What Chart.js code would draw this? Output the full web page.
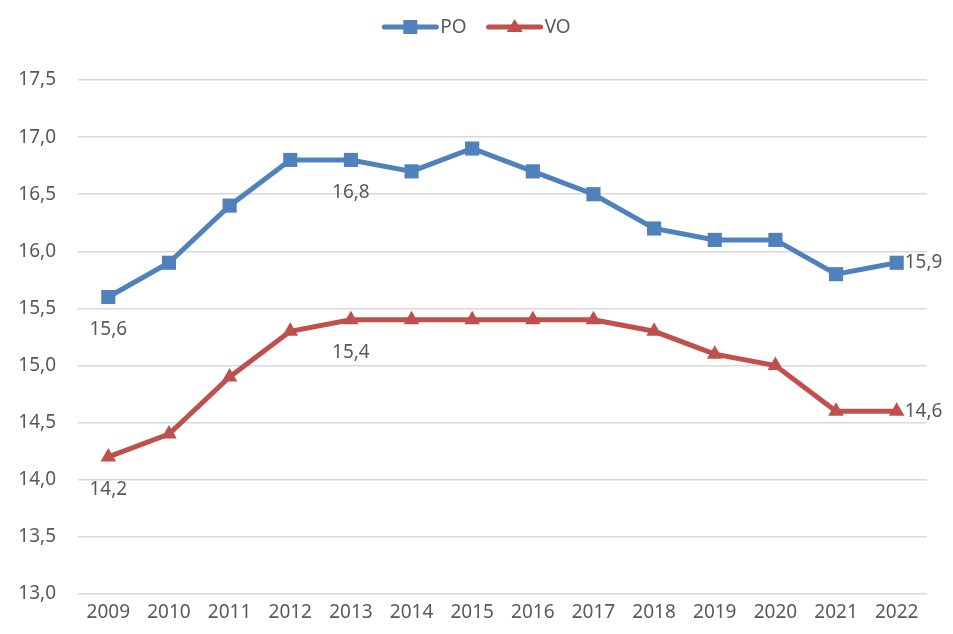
<!DOCTYPE html>
<html>
<head>
<meta charset="utf-8">
<script src="https://cdn.jsdelivr.net/npm/chart.js@4/dist/chart.umd.min.js"></script>
<style>
  html, body { margin: 0; padding: 0; background: #fff; }
  #wrap { width: 953px; height: 634px; }
</style>
</head>
<body>
<div id="wrap"><canvas id="chart"></canvas></div>
<script>
const years = ["2009","2010","2011","2012","2013","2014","2015","2016","2017","2018","2019","2020","2021","2022"];
const po = [15.6, 15.9, 16.4, 16.8, 16.8, 16.7, 16.9, 16.7, 16.5, 16.2, 16.1, 16.1, 15.8, 15.9];
const vo = [14.2, 14.4, 14.9, 15.3, 15.4, 15.4, 15.4, 15.4, 15.4, 15.3, 15.1, 15.0, 14.6, 14.6];
// which points get a value label, and where
const labelSpots = [
  { series: 0, index: 0, pos: "below" },
  { series: 0, index: 4, pos: "below" },
  { series: 0, index: 13, pos: "right" },
  { series: 1, index: 0, pos: "below" },
  { series: 1, index: 4, pos: "below" },
  { series: 1, index: 13, pos: "right" }
];

const FONT = "'Noto Sans', 'DejaVu Sans', sans-serif";
const TEXT = "#595959";
const SIZE = 19;
const fmt = (v) => v.toFixed(1).replace(".", ",");

// value labels next to chosen points
const valueLabels = {
  id: "valueLabels",
  afterDatasetsDraw(chart) {
    const ctx = chart.ctx;
    ctx.save();
    ctx.font = SIZE + "px " + FONT;
    ctx.fillStyle = TEXT;
    labelSpots.forEach((s) => {
      const pt = chart.getDatasetMeta(s.series).data[s.index];
      const v = chart.data.datasets[s.series].data[s.index];
      if (s.pos === "below") {
        ctx.textAlign = "center";
        ctx.textBaseline = "middle";
        ctx.fillText(fmt(v), pt.x, pt.y + 33);
      } else {
        ctx.textAlign = "left";
        ctx.textBaseline = "middle";
        ctx.fillText(fmt(v), pt.x + 8, pt.y);
      }
    });
    ctx.restore();
  }
};

// legend drawn as line + marker, like the office style
const lineLegend = {
  id: "lineLegend",
  afterDraw(chart) {
    const ctx = chart.ctx;
    const sets = chart.data.datasets;
    ctx.save();
    ctx.font = SIZE + "px " + FONT;
    const lineW = 56, gap = 2, spacing = 20;
    let total = 0;
    const widths = sets.map((d) => lineW + gap + ctx.measureText(d.label).width);
    widths.forEach((w) => (total += w));
    total += spacing * (sets.length - 1);
    let x = chart.width / 2 - total / 2;
    const y = 27;
    sets.forEach((d, i) => {
      ctx.strokeStyle = d.borderColor;
      ctx.lineWidth = 5;
      ctx.lineCap = "round";
      ctx.beginPath();
      ctx.moveTo(x + 2, y);
      ctx.lineTo(x + lineW - 2, y);
      ctx.stroke();
      ctx.fillStyle = d.borderColor;
      const cx = x + lineW / 2;
      if (d.pointStyle === "rect") {
        ctx.fillRect(cx - 7, y - 7, 14, 14);
      } else {
        ctx.beginPath();
        ctx.moveTo(cx, y - 8);
        ctx.lineTo(cx + 8, y + 5);
        ctx.lineTo(cx - 8, y + 5);
        ctx.closePath();
        ctx.fill();
      }
      ctx.fillStyle = TEXT;
      ctx.textAlign = "left";
      ctx.textBaseline = "middle";
      ctx.fillText(d.label, x + lineW + gap, y + 1);
      x += widths[i] + spacing;
    });
    ctx.restore();
  }
};

new Chart(document.getElementById("chart"), {
  type: "line",
  data: {
    labels: years,
    datasets: [
      {
        label: "PO",
        data: po,
        borderColor: "#4f81bd",
        backgroundColor: "#4f81bd",
        borderWidth: 5,
        pointStyle: "rect",
        pointRadius: 10,
        pointBorderWidth: 0,
        tension: 0
      },
      {
        label: "VO",
        data: vo,
        borderColor: "#c0504d",
        backgroundColor: "#c0504d",
        borderWidth: 5,
        pointStyle: "triangle",
        pointRadius: 9,
        pointBorderWidth: 0,
        tension: 0
      }
    ]
  },
  options: {
    responsive: true,
    maintainAspectRatio: false,
    animation: false,
    layout: { padding: { top: 80, right: 26, left: 0, bottom: 0 } },
    plugins: {
      legend: { display: false },
      tooltip: { enabled: false }
    },
    scales: {
      x: {
        offset: true,
        grid: { display: false, drawTicks: false },
        border: { display: false },
        ticks: { color: TEXT, font: { family: FONT, size: SIZE }, padding: 7, maxRotation: 0, autoSkip: false },
        afterFit(scale) { scale.height = 40; }
      },
      y: {
        min: 13,
        max: 17.5,
        grid: { color: "#d9d9d9", lineWidth: 1.5, drawTicks: false },
        border: { display: false },
        ticks: {
          stepSize: 0.5,
          color: TEXT,
          font: { family: FONT, size: SIZE },
          padding: 22,
          callback: (v) => fmt(v)
        },
        afterFit(scale) { scale.width = 78; }
      }
    }
  },
  plugins: [valueLabels, lineLegend]
});
</script>
</body>
</html>
